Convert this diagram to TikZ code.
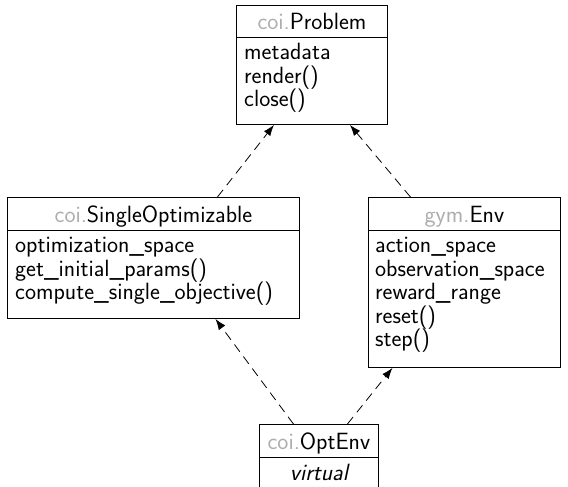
\documentclass[tikz,border=0pt]{standalone}
\usetikzlibrary{arrows.meta}
\definecolor{pkggray}{gray}{0.68}
% member lines always sit one baselineskip apart
\lineskiplimit=-100pt
\tikzset{
  x=1pt, y=-1pt,
  umlfont/.style={font=\sffamily\fontsize{23.5}{23.5}\selectfont},
  umlbox/.style={draw, line width=0.9pt, inner sep=0pt, anchor=north west},
  umlhead/.style={umlbox, umlfont, text height=16.3pt, text depth=0pt},
  umltext/.style={umlfont, inner sep=0pt, align=left, anchor=north west},
  realizes/.style={draw, line width=0.8pt, dash pattern=on 9pt off 6pt,
    -{Latex[length=11pt,width=8pt]}},
}
\newcommand{\pkg}[1]{\textcolor{pkggray}{#1.}}
% fixed height for the first line of a member list
\newcommand{\firstline}{\rule{0pt}{18pt}}
\begin{document}
\begin{tikzpicture}
\path[use as bounding box, clip] (0,0) rectangle (568,487);

% coi.Problem
\node[umlhead, minimum width=151pt, minimum height=32pt] (probH) at (236,5) {\pkg{coi}Problem};
\node[umlbox, minimum width=151pt, minimum height=87pt] (probB) at (236,37) {};
\node[umltext] (probT) at ([xshift=8pt, yshift=-4.5pt]probB.north west)
  {\firstline metadata\\render()\\close()};

% coi.SingleOptimizable
\node[umlhead, minimum width=292pt, minimum height=33pt] (singH) at (7,197) {\pkg{coi}SingleOptimizable};
\node[umlbox, minimum width=292pt, minimum height=88pt] (singB) at (7,230) {};
\node[umltext] (singT) at ([xshift=8pt, yshift=-4.5pt]singB.north west)
  {\firstline optimization\_space\\get\_initial\_params()\\compute\_single\_objective()};

% gym.Env
\node[umlhead, minimum width=192pt, minimum height=33pt] (envH) at (368,197) {\pkg{gym}Env};
\node[umlbox, minimum width=192pt, minimum height=137pt] (envB) at (368,230) {};
\node[umltext] (envT) at ([xshift=7pt, yshift=-4.5pt]envB.north west)
  {\firstline action\_space\\observation\_space\\reward\_range\\reset()\\step()};

% coi.OptEnv, whose body runs on past the lower edge
\node[umlhead, minimum width=119pt, minimum height=33pt] (optH) at (259,424) {\pkg{coi}OptEnv};
\node[umlbox, minimum width=119pt, minimum height=60pt] (optB) at (259,457) {};
\node[umlfont, inner sep=0pt, anchor=base] (optT) at ([yshift=-23pt]optB.north) {\itshape virtual};

% realization arrows
\draw[realizes] ([xshift=64pt]singH.north) -- ([xshift=-38pt]probB.south);
\draw[realizes] ([xshift=-54pt]envH.north) -- ([xshift=38pt]probB.south);
\draw[realizes] ([xshift=-25.5pt]optH.north) -- ([xshift=62pt]singB.south);
\draw[realizes] ([xshift=28.5pt]optH.north) -- ([xshift=-72pt]envB.south);
\end{tikzpicture}
\end{document}
